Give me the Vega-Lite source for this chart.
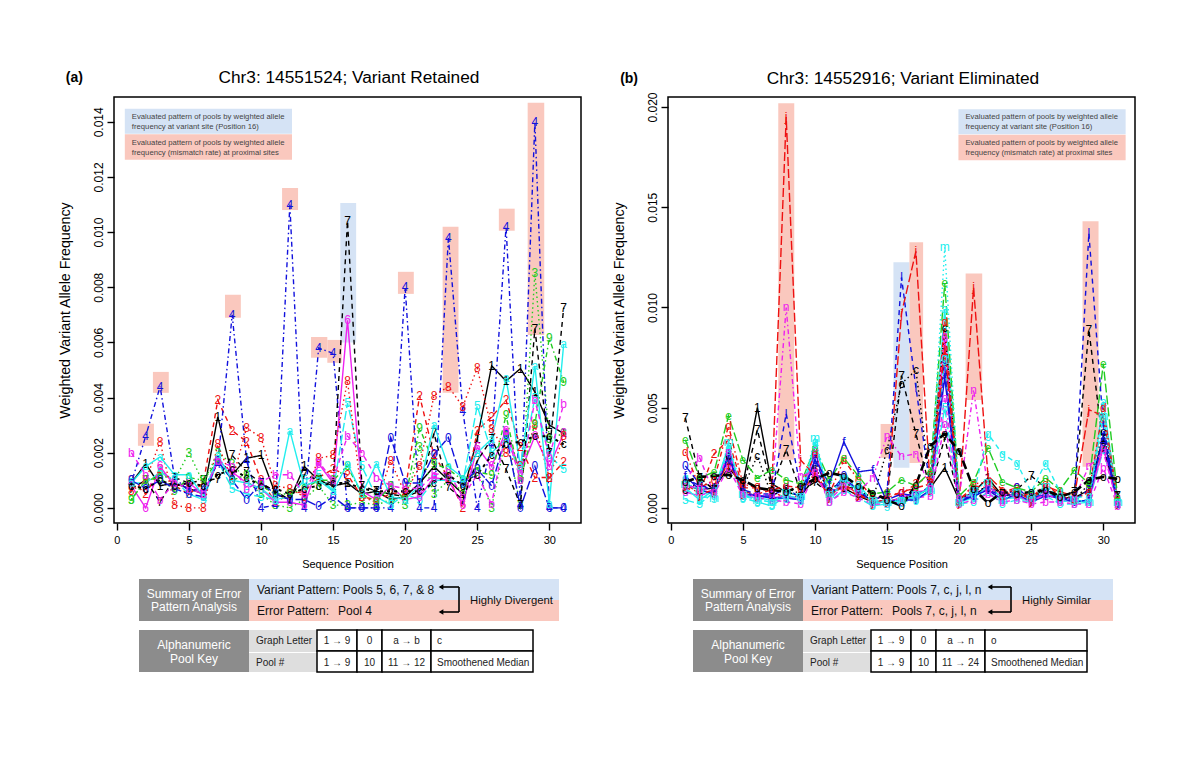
{"$schema":"https://vega.github.io/schema/vega-lite/v6.json","background":"white","padding":{"left":57,"top":67,"right":10,"bottom":10},"bounds":"flush","columns":2,"spacing":{"row":56,"column":87},"resolve":{"scale":{"color":"independent","strokeDash":"independent"}},"config":{"view":{"stroke":null},"font":"Liberation Sans","axis":{"grid":false,"domain":false,"ticks":true,"tickColor":"black","tickWidth":1.4,"tickSize":7,"labelColor":"black","titleColor":"black","labelFont":"Liberation Sans","titleFont":"Liberation Sans","titleFontWeight":"normal"}},
"datasets":{
"tab":[{"k":"dark","x":25,"x2":135,"y":0,"y2":42},{"k":"blue","x":135,"x2":445,"y":0,"y2":21},{"k":"pink","x":135,"x2":445,"y":21,"y2":42},{"k":"dark","x":25,"x2":135,"y":51,"y2":93},{"k":"light","x":135,"x2":203,"y":51,"y2":73},{"k":"light","x":135,"x2":203,"y":74,"y2":93},{"k":"cell","x":203,"x2":243,"y":51,"y2":72},{"k":"cell","x":243,"x2":268,"y":51,"y2":72},{"k":"cell","x":268,"x2":317,"y":51,"y2":72},{"k":"cell","x":317,"x2":419,"y":51,"y2":72},{"k":"cell","x":203,"x2":243,"y":72,"y2":93},{"k":"cell","x":243,"x2":268,"y":72,"y2":93},{"k":"cell","x":268,"x2":317,"y":72,"y2":93},{"k":"cell","x":317,"x2":419,"y":72,"y2":93}],
"tabText":[{"k":"w","x":80,"y":15,"t":"Summary of Error"},{"k":"w","x":80,"y":28,"t":"Pattern Analysis"},{"k":"w","x":80,"y":66,"t":"Alphanumeric"},{"k":"w","x":80,"y":80,"t":"Pool Key"},{"k":"s","x":142,"y":62,"t":"Graph Letter"},{"k":"s","x":142,"y":84,"t":"Pool #"},{"k":"c","x":223,"y":62,"t":"1 → 9"},{"k":"c","x":255.5,"y":62,"t":"0"},{"k":"c","x":223,"y":84,"t":"1 → 9"},{"k":"c","x":255.5,"y":84,"t":"10"},{"k":"s","x":323,"y":84,"t":"Smoothened Median"},{"k":"l","x":143,"y":32,"t":"Error Pattern:"}],
"textA":[{"k":"l","x":143,"y":11,"t":"Variant Pattern: Pools 5, 6, 7, & 8"},{"k":"l","x":224,"y":32,"t":"Pool 4"},{"k":"h","x":356,"y":22,"t":"Highly Divergent"},{"k":"c","x":292.5,"y":62,"t":"a → b"},{"k":"c","x":292.5,"y":84,"t":"11 → 12"},{"k":"s","x":323,"y":62,"t":"c"}],
"textB":[{"k":"l","x":143,"y":11,"t":"Variant Pattern: Pools 7, c, j, l, n"},{"k":"l","x":224,"y":32,"t":"Pools 7, c, j, l, n"},{"k":"h","x":354,"y":22,"t":"Highly Similar"},{"k":"c","x":292.5,"y":62,"t":"a → n"},{"k":"c","x":292.5,"y":84,"t":"11 → 24"},{"k":"s","x":323,"y":62,"t":"o"}],
"brA":[{"x":326,"x2":345,"y":8,"y2":8},{"x":345,"x2":345,"y":8,"y2":33},{"x":326,"x2":345,"y":33,"y2":33}],
"brB":[{"x":321,"x2":343,"y":8,"y2":8},{"x":343,"x2":343,"y":8,"y2":33},{"x":321,"x2":343,"y":33,"y2":33}],
"headA":[{"x":327,"y":8},{"x":327,"y":33}],
"headB":[{"x":322,"y":8},{"x":322,"y":33}],
"boxA":[{"k":"e","x":1.46,"x2":2.57,"y":0.00225,"y2":0.00305},{"k":"e","x":2.5,"x2":3.6,"y":0.00417,"y2":0.00493},{"k":"e","x":7.5,"x2":8.6,"y":0.00689,"y2":0.00773},{"k":"e","x":11.46,"x2":12.57,"y":0.0108,"y2":0.0116},{"k":"e","x":13.47,"x2":14.6,"y":0.00544,"y2":0.0062},{"k":"e","x":14.6,"x2":15.6,"y":0.00526,"y2":0.00609},{"k":"v","x":15.5,"x2":16.6,"y":0.006,"y2":0.01106},{"k":"e","x":19.5,"x2":20.6,"y":0.00776,"y2":0.00856},{"k":"e","x":22.6,"x2":23.7,"y":0.00417,"y2":0.01019},{"k":"e","x":26.5,"x2":27.6,"y":0.01005,"y2":0.01085},{"k":"e","x":28.5,"x2":29.65,"y":0.00627,"y2":0.01469},{"k":"v","x":0.55,"x2":12.15,"y":0.01357,"y2":0.01447},{"k":"e","x":0.55,"x2":12.15,"y":0.01262,"y2":0.01355}],
"boxB":[{"k":"e","x":7.45,"x2":8.56,"y":0.0024,"y2":0.02019},{"k":"v","x":15.44,"x2":16.55,"y":0.002,"y2":0.01226},{"k":"e","x":16.55,"x2":17.5,"y":0.00224,"y2":0.01326},{"k":"e","x":20.45,"x2":21.6,"y":0.00538,"y2":0.0117},{"k":"e","x":28.56,"x2":29.67,"y":0.00205,"y2":0.0143},{"k":"e","x":14.55,"x2":15.44,"y":0.0025,"y2":0.00419},{"k":"v","x":19.95,"x2":31.55,"y":0.01864,"y2":0.01989},{"k":"e","x":19.95,"x2":31.55,"y":0.01735,"y2":0.01862}],
"noteA":[{"x":1.04,"y":0.01418,"t":"Evaluated pattern of pools by weighted allele"},{"x":1.04,"y":0.01382,"t":"frequency at variant site (Position 16)"},{"x":1.04,"y":0.01324,"t":"Evaluated pattern of pools by weighted allele"},{"x":1.04,"y":0.01288,"t":"frequency (mismatch rate) at proximal sites"}],
"noteB":[{"x":20.44,"y":0.0195,"t":"Evaluated pattern of pools by weighted allele"},{"x":20.44,"y":0.019,"t":"frequency at variant site (Position 16)"},{"x":20.44,"y":0.0182,"t":"Evaluated pattern of pools by weighted allele"},{"x":20.44,"y":0.0177,"t":"frequency (mismatch rate) at proximal sites"}],
"tagA":[{"x":-3.54,"y":0.0156,"t":"(a)"}],
"tagB":[{"x":-3.52,"y":0.0214,"t":"(b)"}],
"headingA":[{"x":16.1,"y":0.0156,"t":"Chr3: 14551524; Variant Retained"}],
"headingB":[{"x":16.1,"y":0.0214,"t":"Chr3: 14552916; Variant Eliminated"}],
"A":[
{"s":"1","x":1,"y":0.0009},{"s":"1","x":2,"y":0.0016},{"s":"1","x":3,"y":0.0008},{"s":"1","x":4,"y":0.0009},{"s":"1","x":5,"y":0.0007},{"s":"1","x":6,"y":0.0005},{"s":"1","x":7,"y":0.0033},{"s":"1","x":8,"y":0.0012},{"s":"1","x":9,"y":0.0018},{"s":"1","x":10,"y":0.0019},{"s":"1","x":11,"y":0.0005},{"s":"1","x":12,"y":0.0003},{"s":"1","x":13,"y":0.0015},{"s":"1","x":14,"y":0.001},{"s":"1","x":15,"y":0.0008},{"s":"1","x":16,"y":0.0009},{"s":"1","x":17,"y":0.0005},{"s":"1","x":18,"y":0.0006},{"s":"1","x":19,"y":0.0003},{"s":"1","x":20,"y":0.0004},{"s":"1","x":21,"y":0.0009},{"s":"1","x":22,"y":0.0015},{"s":"1","x":23,"y":0.001},{"s":"1","x":24,"y":0.0005},{"s":"1","x":25,"y":0.0025},{"s":"1","x":26,"y":0.00515},{"s":"1","x":27,"y":0.0046},{"s":"1","x":28,"y":0.00505},{"s":"1","x":29,"y":0.0042},{"s":"1","x":30,"y":0.003},{"s":"1","x":31,"y":0.0027},
{"s":"2","x":1,"y":0.001},{"s":"2","x":2,"y":0.0005},{"s":"2","x":3,"y":0.0014},{"s":"2","x":4,"y":0.0008},{"s":"2","x":5,"y":0.0005},{"s":"2","x":6,"y":0.0009},{"s":"2","x":7,"y":0.0039},{"s":"2","x":8,"y":0.0028},{"s":"2","x":9,"y":0.0024},{"s":"2","x":10,"y":0.001},{"s":"2","x":11,"y":0.0002},{"s":"2","x":12,"y":0.0005},{"s":"2","x":13,"y":0.0006},{"s":"2","x":14,"y":0.0011},{"s":"2","x":15,"y":0.0014},{"s":"2","x":16,"y":0.0012},{"s":"2","x":17,"y":0.0004},{"s":"2","x":18,"y":0.0003},{"s":"2","x":19,"y":0.0005},{"s":"2","x":20,"y":0.0006},{"s":"2","x":21,"y":0.00407},{"s":"2","x":22,"y":0.0019},{"s":"2","x":23,"y":0.0011},{"s":"2","x":24,"y":0},{"s":"2","x":25,"y":0.0028},{"s":"2","x":26,"y":0.0033},{"s":"2","x":27,"y":0.0039},{"s":"2","x":28,"y":0.0022},{"s":"2","x":29,"y":0.0011},{"s":"2","x":30,"y":0.0011},{"s":"2","x":31,"y":0.00166},
{"s":"3","x":1,"y":0.0003},{"s":"3","x":2,"y":0.001},{"s":"3","x":3,"y":0.0012},{"s":"3","x":4,"y":0.001},{"s":"3","x":5,"y":0.002},{"s":"3","x":6,"y":0.0009},{"s":"3","x":7,"y":0.002},{"s":"3","x":8,"y":0.0016},{"s":"3","x":9,"y":0.001},{"s":"3","x":10,"y":0.0005},{"s":"3","x":11,"y":0.0001},{"s":"3","x":12,"y":0},{"s":"3","x":13,"y":0.0003},{"s":"3","x":14,"y":0.0008},{"s":"3","x":15,"y":0.0001},{"s":"3","x":16,"y":0.0001},{"s":"3","x":17,"y":0.0002},{"s":"3","x":18,"y":0.0001},{"s":"3","x":19,"y":0.0003},{"s":"3","x":20,"y":0.0001},{"s":"3","x":21,"y":0.0022},{"s":"3","x":22,"y":0.0005},{"s":"3","x":23,"y":0.001},{"s":"3","x":24,"y":0.0006},{"s":"3","x":25,"y":0.0014},{"s":"3","x":26,"y":0},{"s":"3","x":27,"y":0.0026},{"s":"3","x":28,"y":0.0001},{"s":"3","x":29,"y":0.0085},{"s":"3","x":30,"y":0.0025},{"s":"3","x":31,"y":0.0027},
{"s":"4","x":1,"y":0.0009},{"s":"4","x":2,"y":0.0026},{"s":"4","x":3,"y":0.0044},{"s":"4","x":4,"y":0.0011},{"s":"4","x":5,"y":0.0006},{"s":"4","x":6,"y":0.0007},{"s":"4","x":7,"y":0.0016},{"s":"4","x":8,"y":0.007},{"s":"4","x":9,"y":0.0017},{"s":"4","x":10,"y":0},{"s":"4","x":11,"y":0.0001},{"s":"4","x":12,"y":0.011},{"s":"4","x":13,"y":0},{"s":"4","x":14,"y":0.0058},{"s":"4","x":15,"y":0.0056},{"s":"4","x":16,"y":0},{"s":"4","x":17,"y":0},{"s":"4","x":18,"y":0},{"s":"4","x":19,"y":0},{"s":"4","x":20,"y":0.008},{"s":"4","x":21,"y":0},{"s":"4","x":22,"y":0},{"s":"4","x":23,"y":0.0098},{"s":"4","x":24,"y":0.0035},{"s":"4","x":25,"y":0},{"s":"4","x":26,"y":0.0023},{"s":"4","x":27,"y":0.0102},{"s":"4","x":28,"y":0.0001},{"s":"4","x":29,"y":0.014},{"s":"4","x":30,"y":0},{"s":"4","x":31,"y":0},
{"s":"5","x":1,"y":0.0009},{"s":"5","x":2,"y":0.0009},{"s":"5","x":3,"y":0.0013},{"s":"5","x":4,"y":0.001},{"s":"5","x":5,"y":0.0005},{"s":"5","x":6,"y":0.0003},{"s":"5","x":7,"y":0.0017},{"s":"5","x":8,"y":0.0007},{"s":"5","x":9,"y":0.0005},{"s":"5","x":10,"y":0.0004},{"s":"5","x":11,"y":0.0003},{"s":"5","x":12,"y":0.0004},{"s":"5","x":13,"y":0.001},{"s":"5","x":14,"y":0.0012},{"s":"5","x":15,"y":0.0006},{"s":"5","x":16,"y":0.0038},{"s":"5","x":17,"y":0.0015},{"s":"5","x":18,"y":0.0004},{"s":"5","x":19,"y":0.0001},{"s":"5","x":20,"y":0.0005},{"s":"5","x":21,"y":0.0003},{"s":"5","x":22,"y":0.001},{"s":"5","x":23,"y":0.001},{"s":"5","x":24,"y":0.0009},{"s":"5","x":25,"y":0.0037},{"s":"5","x":26,"y":0.002},{"s":"5","x":27,"y":0.0025},{"s":"5","x":28,"y":0.0013},{"s":"5","x":29,"y":0.004},{"s":"5","x":30,"y":0.0019},{"s":"5","x":31,"y":0.0014},
{"s":"6","x":1,"y":0.0008},{"s":"6","x":2,"y":0},{"s":"6","x":3,"y":0.0015},{"s":"6","x":4,"y":0.0008},{"s":"6","x":5,"y":0.0009},{"s":"6","x":6,"y":0.0005},{"s":"6","x":7,"y":0.0017},{"s":"6","x":8,"y":0.0013},{"s":"6","x":9,"y":0.0009},{"s":"6","x":10,"y":0.0007},{"s":"6","x":11,"y":0.0002},{"s":"6","x":12,"y":0.0002},{"s":"6","x":13,"y":0.0001},{"s":"6","x":14,"y":0.0016},{"s":"6","x":15,"y":0.0009},{"s":"6","x":16,"y":0.0068},{"s":"6","x":17,"y":0.0006},{"s":"6","x":18,"y":0.0003},{"s":"6","x":19,"y":0.0008},{"s":"6","x":20,"y":0.0003},{"s":"6","x":21,"y":0.0004},{"s":"6","x":22,"y":0.0011},{"s":"6","x":23,"y":0.001},{"s":"6","x":24,"y":0.0001},{"s":"6","x":25,"y":0.0022},{"s":"6","x":26,"y":0.0015},{"s":"6","x":27,"y":0.0028},{"s":"6","x":28,"y":0.0013},{"s":"6","x":29,"y":0.0026},{"s":"6","x":30,"y":0.0015},{"s":"6","x":31,"y":0.0027},
{"s":"7","x":1,"y":0.0007},{"s":"7","x":2,"y":0.001},{"s":"7","x":3,"y":0.0002},{"s":"7","x":4,"y":0.0011},{"s":"7","x":5,"y":0.0009},{"s":"7","x":6,"y":0.001},{"s":"7","x":7,"y":0.00105},{"s":"7","x":8,"y":0.0019},{"s":"7","x":9,"y":0.0013},{"s":"7","x":10,"y":0.0009},{"s":"7","x":11,"y":0.0006},{"s":"7","x":12,"y":0.0003},{"s":"7","x":13,"y":0.0012},{"s":"7","x":14,"y":0.001},{"s":"7","x":15,"y":0.0009},{"s":"7","x":16,"y":0.0104},{"s":"7","x":17,"y":0.0008},{"s":"7","x":18,"y":0.0006},{"s":"7","x":19,"y":0.0005},{"s":"7","x":20,"y":0.0004},{"s":"7","x":21,"y":0.0006},{"s":"7","x":22,"y":0.0027},{"s":"7","x":23,"y":0.00075},{"s":"7","x":24,"y":0.0003},{"s":"7","x":25,"y":0.0017},{"s":"7","x":26,"y":0.0025},{"s":"7","x":27,"y":0.0014},{"s":"7","x":28,"y":0.0001},{"s":"7","x":29,"y":0.0065},{"s":"7","x":30,"y":0.002},{"s":"7","x":31,"y":0.00726},
{"s":"8","x":1,"y":0.0006},{"s":"8","x":2,"y":0.001},{"s":"8","x":3,"y":0.0024},{"s":"8","x":4,"y":0.0001},{"s":"8","x":5,"y":0},{"s":"8","x":6,"y":0},{"s":"8","x":7,"y":0.0023},{"s":"8","x":8,"y":0.001},{"s":"8","x":9,"y":0.0029},{"s":"8","x":10,"y":0.00255},{"s":"8","x":11,"y":0.0008},{"s":"8","x":12,"y":0.0007},{"s":"8","x":13,"y":0.0004},{"s":"8","x":14,"y":0.0018},{"s":"8","x":15,"y":0.0019},{"s":"8","x":16,"y":0.0046},{"s":"8","x":17,"y":0.0004},{"s":"8","x":18,"y":0.0002},{"s":"8","x":19,"y":0.0017},{"s":"8","x":20,"y":0.0005},{"s":"8","x":21,"y":0.0015},{"s":"8","x":22,"y":0.00407},{"s":"8","x":23,"y":0.0044},{"s":"8","x":24,"y":0.00367},{"s":"8","x":25,"y":0.00507},{"s":"8","x":26,"y":0.00287},{"s":"8","x":27,"y":0.002},{"s":"8","x":28,"y":0.0015},{"s":"8","x":29,"y":0.003},{"s":"8","x":30,"y":0.0011},{"s":"8","x":31,"y":0.0026},
{"s":"9","x":1,"y":0.0003},{"s":"9","x":2,"y":0.001},{"s":"9","x":3,"y":0.0011},{"s":"9","x":4,"y":0.0006},{"s":"9","x":5,"y":0.0011},{"s":"9","x":6,"y":0.001},{"s":"9","x":7,"y":0.0017},{"s":"9","x":8,"y":0.001},{"s":"9","x":9,"y":0.0012},{"s":"9","x":10,"y":0.0008},{"s":"9","x":11,"y":0.0005},{"s":"9","x":12,"y":0.0005},{"s":"9","x":13,"y":0.0007},{"s":"9","x":14,"y":0.001},{"s":"9","x":15,"y":0.001},{"s":"9","x":16,"y":0.0015},{"s":"9","x":17,"y":0.0005},{"s":"9","x":18,"y":0.0002},{"s":"9","x":19,"y":0.0008},{"s":"9","x":20,"y":0.0003},{"s":"9","x":21,"y":0.0029},{"s":"9","x":22,"y":0.0016},{"s":"9","x":23,"y":0.0014},{"s":"9","x":24,"y":0.001},{"s":"9","x":25,"y":0.0013},{"s":"9","x":26,"y":0.0012},{"s":"9","x":27,"y":0.00335},{"s":"9","x":28,"y":0.001},{"s":"9","x":29,"y":0.00305},{"s":"9","x":30,"y":0.00615},{"s":"9","x":31,"y":0.00455},
{"s":"0","x":1,"y":0.001},{"s":"0","x":2,"y":0.0007},{"s":"0","x":3,"y":0.001},{"s":"0","x":4,"y":0.0007},{"s":"0","x":5,"y":0.0005},{"s":"0","x":6,"y":0.0004},{"s":"0","x":7,"y":0.0017},{"s":"0","x":8,"y":0.001},{"s":"0","x":9,"y":0.0003},{"s":"0","x":10,"y":0.0009},{"s":"0","x":11,"y":0.0005},{"s":"0","x":12,"y":0.0003},{"s":"0","x":13,"y":0.0003},{"s":"0","x":14,"y":0.00005},{"s":"0","x":15,"y":0.0004},{"s":"0","x":16,"y":0},{"s":"0","x":17,"y":0},{"s":"0","x":18,"y":0},{"s":"0","x":19,"y":0.00255},{"s":"0","x":20,"y":0.0009},{"s":"0","x":21,"y":0.0009},{"s":"0","x":22,"y":0.00195},{"s":"0","x":23,"y":0.00255},{"s":"0","x":24,"y":0.00085},{"s":"0","x":25,"y":0.0014},{"s":"0","x":26,"y":0.0008},{"s":"0","x":27,"y":0.00265},{"s":"0","x":28,"y":0},{"s":"0","x":29,"y":0.0015},{"s":"0","x":30,"y":0},{"s":"0","x":31,"y":0},
{"s":"a","x":1,"y":0.0009},{"s":"a","x":2,"y":0.0015},{"s":"a","x":3,"y":0.00185},{"s":"a","x":4,"y":0.0012},{"s":"a","x":5,"y":0.0012},{"s":"a","x":6,"y":0.0004},{"s":"a","x":7,"y":0.0019},{"s":"a","x":8,"y":0.001},{"s":"a","x":9,"y":0.0009},{"s":"a","x":10,"y":0.0007},{"s":"a","x":11,"y":0.0003},{"s":"a","x":12,"y":0.0028},{"s":"a","x":13,"y":0.0008},{"s":"a","x":14,"y":0.001},{"s":"a","x":15,"y":0.0006},{"s":"a","x":16,"y":0.0016},{"s":"a","x":17,"y":0.0005},{"s":"a","x":18,"y":0.0016},{"s":"a","x":19,"y":0.0004},{"s":"a","x":20,"y":0.0003},{"s":"a","x":21,"y":0.0008},{"s":"a","x":22,"y":0.003},{"s":"a","x":23,"y":0.0015},{"s":"a","x":24,"y":0.0011},{"s":"a","x":25,"y":0.002},{"s":"a","x":26,"y":0.0025},{"s":"a","x":27,"y":0.0047},{"s":"a","x":28,"y":0.0015},{"s":"a","x":29,"y":0.00515},{"s":"a","x":30,"y":0.00015},{"s":"a","x":31,"y":0.00595},
{"s":"b","x":1,"y":0.002},{"s":"b","x":2,"y":0.0012},{"s":"b","x":3,"y":0.0003},{"s":"b","x":4,"y":0.0009},{"s":"b","x":5,"y":0.0007},{"s":"b","x":6,"y":0.0005},{"s":"b","x":7,"y":0.0017},{"s":"b","x":8,"y":0.0015},{"s":"b","x":9,"y":0.0007},{"s":"b","x":10,"y":0.00095},{"s":"b","x":11,"y":0.0012},{"s":"b","x":12,"y":0.0012},{"s":"b","x":13,"y":0.0005},{"s":"b","x":14,"y":0.00166},{"s":"b","x":15,"y":0.001},{"s":"b","x":16,"y":0.0026},{"s":"b","x":17,"y":0.002},{"s":"b","x":18,"y":0.0011},{"s":"b","x":19,"y":0.0008},{"s":"b","x":20,"y":0.0007},{"s":"b","x":21,"y":0.0007},{"s":"b","x":22,"y":0.0012},{"s":"b","x":23,"y":0.0013},{"s":"b","x":24,"y":0.0004},{"s":"b","x":25,"y":0.0012},{"s":"b","x":26,"y":0.00015},{"s":"b","x":27,"y":0.0028},{"s":"b","x":28,"y":0.001},{"s":"b","x":29,"y":0.0039},{"s":"b","x":30,"y":0.00185},{"s":"b","x":31,"y":0.00377},
{"s":"c","x":1,"y":0.0008},{"s":"c","x":2,"y":0.0007},{"s":"c","x":3,"y":0.001},{"s":"c","x":4,"y":0.0008},{"s":"c","x":5,"y":0.0009},{"s":"c","x":6,"y":0.0008},{"s":"c","x":7,"y":0.0012},{"s":"c","x":8,"y":0.0014},{"s":"c","x":9,"y":0.0011},{"s":"c","x":10,"y":0.0008},{"s":"c","x":11,"y":0.0007},{"s":"c","x":12,"y":0.0005},{"s":"c","x":13,"y":0.0007},{"s":"c","x":14,"y":0.0008},{"s":"c","x":15,"y":0.0009},{"s":"c","x":16,"y":0.0009},{"s":"c","x":17,"y":0.0007},{"s":"c","x":18,"y":0.0006},{"s":"c","x":19,"y":0.0006},{"s":"c","x":20,"y":0.0006},{"s":"c","x":21,"y":0.0006},{"s":"c","x":22,"y":0.0009},{"s":"c","x":23,"y":0.0012},{"s":"c","x":24,"y":0.0008},{"s":"c","x":25,"y":0.0012},{"s":"c","x":26,"y":0.0019},{"s":"c","x":27,"y":0.0023},{"s":"c","x":28,"y":0.0024},{"s":"c","x":29,"y":0.0026},{"s":"c","x":30,"y":0.0026},{"s":"c","x":31,"y":0.0023}
],
"B":[
{"s":"1","x":1,"y":0.0012},{"s":"1","x":2,"y":0.0009},{"s":"1","x":3,"y":0.001},{"s":"1","x":4,"y":0.002},{"s":"1","x":5,"y":0.0012},{"s":"1","x":6,"y":0.005},{"s":"1","x":7,"y":0.0012},{"s":"1","x":8,"y":0.0008},{"s":"1","x":9,"y":0.0006},{"s":"1","x":10,"y":0.0015},{"s":"1","x":11,"y":0.0008},{"s":"1","x":12,"y":0.001},{"s":"1","x":13,"y":0.0006},{"s":"1","x":14,"y":0.0003},{"s":"1","x":15,"y":0.0003},{"s":"1","x":16,"y":0.0005},{"s":"1","x":17,"y":0.0006},{"s":"1","x":18,"y":0.001},{"s":"1","x":19,"y":0.002},{"s":"1","x":20,"y":0.0004},{"s":"1","x":21,"y":0.0008},{"s":"1","x":22,"y":0.0015},{"s":"1","x":23,"y":0.0006},{"s":"1","x":24,"y":0.0007},{"s":"1","x":25,"y":0.0006},{"s":"1","x":26,"y":0.0009},{"s":"1","x":27,"y":0.0005},{"s":"1","x":28,"y":0.0005},{"s":"1","x":29,"y":0.0009},{"s":"1","x":30,"y":0.0035},{"s":"1","x":31,"y":0.0006},
{"s":"2","x":1,"y":0.001},{"s":"2","x":2,"y":0.0008},{"s":"2","x":3,"y":0.0027},{"s":"2","x":4,"y":0.0034},{"s":"2","x":5,"y":0.001},{"s":"2","x":6,"y":0.001},{"s":"2","x":7,"y":0.0008},{"s":"2","x":8,"y":0.0005},{"s":"2","x":9,"y":0.0006},{"s":"2","x":10,"y":0.0018},{"s":"2","x":11,"y":0.0006},{"s":"2","x":12,"y":0.0011},{"s":"2","x":13,"y":0.0006},{"s":"2","x":14,"y":0.0004},{"s":"2","x":15,"y":0.0007},{"s":"2","x":16,"y":0.0007},{"s":"2","x":17,"y":0.0012},{"s":"2","x":18,"y":0.0016},{"s":"2","x":19,"y":0.0075},{"s":"2","x":20,"y":0.0004},{"s":"2","x":21,"y":0.0011},{"s":"2","x":22,"y":0.001},{"s":"2","x":23,"y":0.0008},{"s":"2","x":24,"y":0.001},{"s":"2","x":25,"y":0.0005},{"s":"2","x":26,"y":0.0006},{"s":"2","x":27,"y":0.0007},{"s":"2","x":28,"y":0.0005},{"s":"2","x":29,"y":0.0007},{"s":"2","x":30,"y":0.003},{"s":"2","x":31,"y":0.0002},
{"s":"5","x":1,"y":0.0004},{"s":"5","x":2,"y":0.0002},{"s":"5","x":3,"y":0.0008},{"s":"5","x":4,"y":0.0025},{"s":"5","x":5,"y":0.0005},{"s":"5","x":6,"y":0.0003},{"s":"5","x":7,"y":0.0001},{"s":"5","x":8,"y":0.0006},{"s":"5","x":9,"y":0.0004},{"s":"5","x":10,"y":0.0029},{"s":"5","x":11,"y":0.0003},{"s":"5","x":12,"y":0.0009},{"s":"5","x":13,"y":0.0005},{"s":"5","x":14,"y":0.0001},{"s":"5","x":15,"y":0.0002},{"s":"5","x":16,"y":0.0003},{"s":"5","x":17,"y":0.0004},{"s":"5","x":18,"y":0.0008},{"s":"5","x":19,"y":0.005},{"s":"5","x":20,"y":0.0002},{"s":"5","x":21,"y":0.0003},{"s":"5","x":22,"y":0.0008},{"s":"5","x":23,"y":0.0002},{"s":"5","x":24,"y":0.0004},{"s":"5","x":25,"y":0.0003},{"s":"5","x":26,"y":0.0006},{"s":"5","x":27,"y":0.0002},{"s":"5","x":28,"y":0.0002},{"s":"5","x":29,"y":0.0003},{"s":"5","x":30,"y":0.0029},{"s":"5","x":31,"y":0.0002},
{"s":"6","x":1,"y":0.0008},{"s":"6","x":2,"y":0.0006},{"s":"6","x":3,"y":0.0009},{"s":"6","x":4,"y":0.0026},{"s":"6","x":5,"y":0.0007},{"s":"6","x":6,"y":0.0006},{"s":"6","x":7,"y":0.0005},{"s":"6","x":8,"y":0.0006},{"s":"6","x":9,"y":0.0004},{"s":"6","x":10,"y":0.0028},{"s":"6","x":11,"y":0.0005},{"s":"6","x":12,"y":0.0014},{"s":"6","x":13,"y":0.0009},{"s":"6","x":14,"y":0.0003},{"s":"6","x":15,"y":0.0003},{"s":"6","x":16,"y":0.0005},{"s":"6","x":17,"y":0.0008},{"s":"6","x":18,"y":0.0009},{"s":"6","x":19,"y":0.0085},{"s":"6","x":20,"y":0.0003},{"s":"6","x":21,"y":0.0008},{"s":"6","x":22,"y":0.0009},{"s":"6","x":23,"y":0.0004},{"s":"6","x":24,"y":0.0006},{"s":"6","x":25,"y":0.0003},{"s":"6","x":26,"y":0.0009},{"s":"6","x":27,"y":0.0004},{"s":"6","x":28,"y":0.0003},{"s":"6","x":29,"y":0.0004},{"s":"6","x":30,"y":0.003},{"s":"6","x":31,"y":0.0002},
{"s":"7","x":1,"y":0.0045},{"s":"7","x":2,"y":0.0015},{"s":"7","x":3,"y":0.0009},{"s":"7","x":4,"y":0.0026},{"s":"7","x":5,"y":0.001},{"s":"7","x":6,"y":0.0039},{"s":"7","x":7,"y":0.001},{"s":"7","x":8,"y":0.0029},{"s":"7","x":9,"y":0.0008},{"s":"7","x":10,"y":0.0013},{"s":"7","x":11,"y":0.0007},{"s":"7","x":12,"y":0.0011},{"s":"7","x":13,"y":0.0009},{"s":"7","x":14,"y":0.0005},{"s":"7","x":15,"y":0.0006},{"s":"7","x":16,"y":0.0066},{"s":"7","x":17,"y":0.0037},{"s":"7","x":18,"y":0.0009},{"s":"7","x":19,"y":0.0035},{"s":"7","x":20,"y":0.0003},{"s":"7","x":21,"y":0.0006},{"s":"7","x":22,"y":0.0011},{"s":"7","x":23,"y":0.0007},{"s":"7","x":24,"y":0.0009},{"s":"7","x":25,"y":0.0016},{"s":"7","x":26,"y":0.001},{"s":"7","x":27,"y":0.0006},{"s":"7","x":28,"y":0.0008},{"s":"7","x":29,"y":0.0089},{"s":"7","x":30,"y":0.003},{"s":"7","x":31,"y":0.0006},
{"s":"0","x":1,"y":0.0021},{"s":"0","x":2,"y":0.0012},{"s":"0","x":3,"y":0.0008},{"s":"0","x":4,"y":0.0025},{"s":"0","x":5,"y":0.0008},{"s":"0","x":6,"y":0.0006},{"s":"0","x":7,"y":0.0006},{"s":"0","x":8,"y":0.001},{"s":"0","x":9,"y":0.0005},{"s":"0","x":10,"y":0.0024},{"s":"0","x":11,"y":0.0007},{"s":"0","x":12,"y":0.0016},{"s":"0","x":13,"y":0.0008},{"s":"0","x":14,"y":0.0003},{"s":"0","x":15,"y":0.0004},{"s":"0","x":16,"y":0.0007},{"s":"0","x":17,"y":0.0006},{"s":"0","x":18,"y":0.0011},{"s":"0","x":19,"y":0.0074},{"s":"0","x":20,"y":0.0004},{"s":"0","x":21,"y":0.0006},{"s":"0","x":22,"y":0.0011},{"s":"0","x":23,"y":0.0005},{"s":"0","x":24,"y":0.001},{"s":"0","x":25,"y":0.0004},{"s":"0","x":26,"y":0.0007},{"s":"0","x":27,"y":0.0005},{"s":"0","x":28,"y":0.0004},{"s":"0","x":29,"y":0.0009},{"s":"0","x":30,"y":0.0033},{"s":"0","x":31,"y":0.0003},
{"s":"a","x":1,"y":0.001},{"s":"a","x":2,"y":0.0004},{"s":"a","x":3,"y":0.0009},{"s":"a","x":4,"y":0.0031},{"s":"a","x":5,"y":0.0006},{"s":"a","x":6,"y":0.0005},{"s":"a","x":7,"y":0.0004},{"s":"a","x":8,"y":0.0005},{"s":"a","x":9,"y":0.0004},{"s":"a","x":10,"y":0.0033},{"s":"a","x":11,"y":0.0005},{"s":"a","x":12,"y":0.0013},{"s":"a","x":13,"y":0.0009},{"s":"a","x":14,"y":0.0003},{"s":"a","x":15,"y":0.0003},{"s":"a","x":16,"y":0.0003},{"s":"a","x":17,"y":0.0006},{"s":"a","x":18,"y":0.001},{"s":"a","x":19,"y":0.0099},{"s":"a","x":20,"y":0.0003},{"s":"a","x":21,"y":0.0005},{"s":"a","x":22,"y":0.0011},{"s":"a","x":23,"y":0.0005},{"s":"a","x":24,"y":0.0005},{"s":"a","x":25,"y":0.0004},{"s":"a","x":26,"y":0.0009},{"s":"a","x":27,"y":0.0003},{"s":"a","x":28,"y":0.0004},{"s":"a","x":29,"y":0.0003},{"s":"a","x":30,"y":0.0053},{"s":"a","x":31,"y":0.0003},
{"s":"b","x":1,"y":0.0013},{"s":"b","x":2,"y":0.0025},{"s":"b","x":3,"y":0.0007},{"s":"b","x":4,"y":0.002},{"s":"b","x":5,"y":0.0006},{"s":"b","x":6,"y":0.0005},{"s":"b","x":7,"y":0.0004},{"s":"b","x":8,"y":0.0003},{"s":"b","x":9,"y":0.0002},{"s":"b","x":10,"y":0.0018},{"s":"b","x":11,"y":0.0003},{"s":"b","x":12,"y":0.0008},{"s":"b","x":13,"y":0.0005},{"s":"b","x":14,"y":0.0002},{"s":"b","x":15,"y":0.0002},{"s":"b","x":16,"y":0.0003},{"s":"b","x":17,"y":0.0005},{"s":"b","x":18,"y":0.0006},{"s":"b","x":19,"y":0.0042},{"s":"b","x":20,"y":0.0002},{"s":"b","x":21,"y":0.0004},{"s":"b","x":22,"y":0.0007},{"s":"b","x":23,"y":0.0003},{"s":"b","x":24,"y":0.0004},{"s":"b","x":25,"y":0.0002},{"s":"b","x":26,"y":0.0003},{"s":"b","x":27,"y":0.0003},{"s":"b","x":28,"y":0.0002},{"s":"b","x":29,"y":0.0002},{"s":"b","x":30,"y":0.002},{"s":"b","x":31,"y":0.0001},
{"s":"c","x":1,"y":0.0009},{"s":"c","x":2,"y":0.0013},{"s":"c","x":3,"y":0.001},{"s":"c","x":4,"y":0.0026},{"s":"c","x":5,"y":0.001},{"s":"c","x":6,"y":0.0026},{"s":"c","x":7,"y":0.0006},{"s":"c","x":8,"y":0.001},{"s":"c","x":9,"y":0.0007},{"s":"c","x":10,"y":0.002},{"s":"c","x":11,"y":0.0009},{"s":"c","x":12,"y":0.0014},{"s":"c","x":13,"y":0.0007},{"s":"c","x":14,"y":0.0004},{"s":"c","x":15,"y":0.0029},{"s":"c","x":16,"y":0.0062},{"s":"c","x":17,"y":0.00687},{"s":"c","x":18,"y":0.0012},{"s":"c","x":19,"y":0.009},{"s":"c","x":20,"y":0.0004},{"s":"c","x":21,"y":0.0009},{"s":"c","x":22,"y":0.001},{"s":"c","x":23,"y":0.0007},{"s":"c","x":24,"y":0.0007},{"s":"c","x":25,"y":0.0005},{"s":"c","x":26,"y":0.0009},{"s":"c","x":27,"y":0.0006},{"s":"c","x":28,"y":0.0004},{"s":"c","x":29,"y":0.0012},{"s":"c","x":30,"y":0.0038},{"s":"c","x":31,"y":0.0003},
{"s":"d","x":1,"y":0.0028},{"s":"d","x":2,"y":0.001},{"s":"d","x":3,"y":0.0014},{"s":"d","x":4,"y":0.0041},{"s":"d","x":5,"y":0.0012},{"s":"d","x":6,"y":0.001},{"s":"d","x":7,"y":0.0009},{"s":"d","x":8,"y":0.0011},{"s":"d","x":9,"y":0.001},{"s":"d","x":10,"y":0.0027},{"s":"d","x":11,"y":0.0007},{"s":"d","x":12,"y":0.0024},{"s":"d","x":13,"y":0.0014},{"s":"d","x":14,"y":0.0005},{"s":"d","x":15,"y":0.0005},{"s":"d","x":16,"y":0.0008},{"s":"d","x":17,"y":0.001},{"s":"d","x":18,"y":0.0012},{"s":"d","x":19,"y":0.0093},{"s":"d","x":20,"y":0.0003},{"s":"d","x":21,"y":0.0012},{"s":"d","x":22,"y":0.0013},{"s":"d","x":23,"y":0.0006},{"s":"d","x":24,"y":0.0009},{"s":"d","x":25,"y":0.0005},{"s":"d","x":26,"y":0.0012},{"s":"d","x":27,"y":0.0006},{"s":"d","x":28,"y":0.0004},{"s":"d","x":29,"y":0.0008},{"s":"d","x":30,"y":0.005},{"s":"d","x":31,"y":0.0004},
{"s":"e","x":1,"y":0.0034},{"s":"e","x":2,"y":0.0015},{"s":"e","x":3,"y":0.0018},{"s":"e","x":4,"y":0.0046},{"s":"e","x":5,"y":0.0024},{"s":"e","x":6,"y":0.0015},{"s":"e","x":7,"y":0.0019},{"s":"e","x":8,"y":0.0014},{"s":"e","x":9,"y":0.0012},{"s":"e","x":10,"y":0.003},{"s":"e","x":11,"y":0.0014},{"s":"e","x":12,"y":0.0025},{"s":"e","x":13,"y":0.0016},{"s":"e","x":14,"y":0.0007},{"s":"e","x":15,"y":0.0008},{"s":"e","x":16,"y":0.0014},{"s":"e","x":17,"y":0.0011},{"s":"e","x":18,"y":0.0018},{"s":"e","x":19,"y":0.0112},{"s":"e","x":20,"y":0.0006},{"s":"e","x":21,"y":0.0013},{"s":"e","x":22,"y":0.003},{"s":"e","x":23,"y":0.0013},{"s":"e","x":24,"y":0.001},{"s":"e","x":25,"y":0.0008},{"s":"e","x":26,"y":0.0015},{"s":"e","x":27,"y":0.0009},{"s":"e","x":28,"y":0.0019},{"s":"e","x":29,"y":0.0012},{"s":"e","x":30,"y":0.0072},{"s":"e","x":31,"y":0.0005},
{"s":"f","x":1,"y":0.0016},{"s":"f","x":2,"y":0.0009},{"s":"f","x":3,"y":0.0007},{"s":"f","x":4,"y":0.0027},{"s":"f","x":5,"y":0.0007},{"s":"f","x":6,"y":0.0006},{"s":"f","x":7,"y":0.0005},{"s":"f","x":8,"y":0.0005},{"s":"f","x":9,"y":0.0004},{"s":"f","x":10,"y":0.0024},{"s":"f","x":11,"y":0.0012},{"s":"f","x":12,"y":0.0033},{"s":"f","x":13,"y":0.0018},{"s":"f","x":14,"y":0.0019},{"s":"f","x":15,"y":0.0003},{"s":"f","x":16,"y":0.0004},{"s":"f","x":17,"y":0.0004},{"s":"f","x":18,"y":0.0009},{"s":"f","x":19,"y":0.0065},{"s":"f","x":20,"y":0.0003},{"s":"f","x":21,"y":0.0006},{"s":"f","x":22,"y":0.0009},{"s":"f","x":23,"y":0.0004},{"s":"f","x":24,"y":0.0007},{"s":"f","x":25,"y":0.0003},{"s":"f","x":26,"y":0.0006},{"s":"f","x":27,"y":0.0005},{"s":"f","x":28,"y":0.0003},{"s":"f","x":29,"y":0.0004},{"s":"f","x":30,"y":0.0036},{"s":"f","x":31,"y":0.0002},
{"s":"g","x":1,"y":0.0015},{"s":"g","x":2,"y":0.0005},{"s":"g","x":3,"y":0.0006},{"s":"g","x":4,"y":0.003},{"s":"g","x":5,"y":0.0006},{"s":"g","x":6,"y":0.0004},{"s":"g","x":7,"y":0.0003},{"s":"g","x":8,"y":0.0006},{"s":"g","x":9,"y":0.0005},{"s":"g","x":10,"y":0.0033},{"s":"g","x":11,"y":0.0006},{"s":"g","x":12,"y":0.0015},{"s":"g","x":13,"y":0.0012},{"s":"g","x":14,"y":0.0003},{"s":"g","x":15,"y":0.0002},{"s":"g","x":16,"y":0.0004},{"s":"g","x":17,"y":0.0005},{"s":"g","x":18,"y":0.0011},{"s":"g","x":19,"y":0.0075},{"s":"g","x":20,"y":0.0004},{"s":"g","x":21,"y":0.0007},{"s":"g","x":22,"y":0.0037},{"s":"g","x":23,"y":0.0027},{"s":"g","x":24,"y":0.00225},{"s":"g","x":25,"y":0.0008},{"s":"g","x":26,"y":0.00225},{"s":"g","x":27,"y":0.0008},{"s":"g","x":28,"y":0.0005},{"s":"g","x":29,"y":0.0006},{"s":"g","x":30,"y":0.0045},{"s":"g","x":31,"y":0.0003},
{"s":"j","x":1,"y":0.0012},{"s":"j","x":2,"y":0.0007},{"s":"j","x":3,"y":0.0009},{"s":"j","x":4,"y":0.0023},{"s":"j","x":5,"y":0.0008},{"s":"j","x":6,"y":0.0007},{"s":"j","x":7,"y":0.0009},{"s":"j","x":8,"y":0.0195},{"s":"j","x":9,"y":0.0024},{"s":"j","x":10,"y":0.0016},{"s":"j","x":11,"y":0.0006},{"s":"j","x":12,"y":0.0012},{"s":"j","x":13,"y":0.0007},{"s":"j","x":14,"y":0.0003},{"s":"j","x":15,"y":0.0004},{"s":"j","x":16,"y":0.0097},{"s":"j","x":17,"y":0.0128},{"s":"j","x":18,"y":0.001},{"s":"j","x":19,"y":0.008},{"s":"j","x":20,"y":0.0003},{"s":"j","x":21,"y":0.011},{"s":"j","x":22,"y":0.0016},{"s":"j","x":23,"y":0.0009},{"s":"j","x":24,"y":0.0008},{"s":"j","x":25,"y":0.0004},{"s":"j","x":26,"y":0.0011},{"s":"j","x":27,"y":0.0008},{"s":"j","x":28,"y":0.0006},{"s":"j","x":29,"y":0.0049},{"s":"j","x":30,"y":0.0046},{"s":"j","x":31,"y":0.0003},
{"s":"l","x":1,"y":0.0015},{"s":"l","x":2,"y":0.0011},{"s":"l","x":3,"y":0.001},{"s":"l","x":4,"y":0.0024},{"s":"l","x":5,"y":0.0009},{"s":"l","x":6,"y":0.0007},{"s":"l","x":7,"y":0.0007},{"s":"l","x":8,"y":0.0047},{"s":"l","x":9,"y":0.001},{"s":"l","x":10,"y":0.002},{"s":"l","x":11,"y":0.0006},{"s":"l","x":12,"y":0.0015},{"s":"l","x":13,"y":0.0009},{"s":"l","x":14,"y":0.0003},{"s":"l","x":15,"y":0.0008},{"s":"l","x":16,"y":0.0115},{"s":"l","x":17,"y":0.006},{"s":"l","x":18,"y":0.001},{"s":"l","x":19,"y":0.0068},{"s":"l","x":20,"y":0.0004},{"s":"l","x":21,"y":0.0006},{"s":"l","x":22,"y":0.0009},{"s":"l","x":23,"y":0.0006},{"s":"l","x":24,"y":0.0007},{"s":"l","x":25,"y":0.0005},{"s":"l","x":26,"y":0.0007},{"s":"l","x":27,"y":0.0005},{"s":"l","x":28,"y":0.0005},{"s":"l","x":29,"y":0.0137},{"s":"l","x":30,"y":0.0041},{"s":"l","x":31,"y":0.0002},
{"s":"m","x":1,"y":0.0012},{"s":"m","x":2,"y":0.0009},{"s":"m","x":3,"y":0.0005},{"s":"m","x":4,"y":0.0033},{"s":"m","x":5,"y":0.0007},{"s":"m","x":6,"y":0.0004},{"s":"m","x":7,"y":0.0003},{"s":"m","x":8,"y":0.0008},{"s":"m","x":9,"y":0.0006},{"s":"m","x":10,"y":0.0035},{"s":"m","x":11,"y":0.0007},{"s":"m","x":12,"y":0.0015},{"s":"m","x":13,"y":0.001},{"s":"m","x":14,"y":0.0004},{"s":"m","x":15,"y":0.0003},{"s":"m","x":16,"y":0.0004},{"s":"m","x":17,"y":0.0007},{"s":"m","x":18,"y":0.0009},{"s":"m","x":19,"y":0.013},{"s":"m","x":20,"y":0.0003},{"s":"m","x":21,"y":0.0009},{"s":"m","x":22,"y":0.0013},{"s":"m","x":23,"y":0.0004},{"s":"m","x":24,"y":0.0008},{"s":"m","x":25,"y":0.0005},{"s":"m","x":26,"y":0.0011},{"s":"m","x":27,"y":0.0005},{"s":"m","x":28,"y":0.0004},{"s":"m","x":29,"y":0.0003},{"s":"m","x":30,"y":0.0046},{"s":"m","x":31,"y":0.0003},
{"s":"n","x":1,"y":0.0011},{"s":"n","x":2,"y":0.001},{"s":"n","x":3,"y":0.0008},{"s":"n","x":4,"y":0.0028},{"s":"n","x":5,"y":0.0007},{"s":"n","x":6,"y":0.0006},{"s":"n","x":7,"y":0.0007},{"s":"n","x":8,"y":0.01},{"s":"n","x":9,"y":0.0016},{"s":"n","x":10,"y":0.0018},{"s":"n","x":11,"y":0.0004},{"s":"n","x":12,"y":0.0011},{"s":"n","x":13,"y":0.0008},{"s":"n","x":14,"y":0.0015},{"s":"n","x":15,"y":0.0036},{"s":"n","x":16,"y":0.00257},{"s":"n","x":17,"y":0.0027},{"s":"n","x":18,"y":0.001},{"s":"n","x":19,"y":0.0055},{"s":"n","x":20,"y":0.0005},{"s":"n","x":21,"y":0.0059},{"s":"n","x":22,"y":0.001},{"s":"n","x":23,"y":0.0007},{"s":"n","x":24,"y":0.0006},{"s":"n","x":25,"y":0.0003},{"s":"n","x":26,"y":0.0007},{"s":"n","x":27,"y":0.0004},{"s":"n","x":28,"y":0.0005},{"s":"n","x":29,"y":0.00207},{"s":"n","x":30,"y":0.0028},{"s":"n","x":31,"y":0.0002},
{"s":"o","x":1,"y":0.0013},{"s":"o","x":2,"y":0.00155},{"s":"o","x":3,"y":0.0016},{"s":"o","x":4,"y":0.00165},{"s":"o","x":5,"y":0.0014},{"s":"o","x":6,"y":0.001},{"s":"o","x":7,"y":0.0009},{"s":"o","x":8,"y":0.0008},{"s":"o","x":9,"y":0.0011},{"s":"o","x":10,"y":0.00145},{"s":"o","x":11,"y":0.00175},{"s":"o","x":12,"y":0.0016},{"s":"o","x":13,"y":0.0011},{"s":"o","x":14,"y":0.00075},{"s":"o","x":15,"y":0.0004},{"s":"o","x":16,"y":0.0001},{"s":"o","x":17,"y":0.00115},{"s":"o","x":18,"y":0.0031},{"s":"o","x":19,"y":0.0037},{"s":"o","x":20,"y":0.00285},{"s":"o","x":21,"y":0.00095},{"s":"o","x":22,"y":0.00025},{"s":"o","x":23,"y":0.0008},{"s":"o","x":24,"y":0.0007},{"s":"o","x":25,"y":0.0008},{"s":"o","x":26,"y":0.0009},{"s":"o","x":27,"y":0.00055},{"s":"o","x":28,"y":0.0008},{"s":"o","x":29,"y":0.0014},{"s":"o","x":30,"y":0.00155},{"s":"o","x":31,"y":0.00145}
]},
"concat":[
{"width":467,"height":426,"view":{"stroke":"black","strokeWidth":1.5},
"encoding":{"x":{"field":"x","type":"quantitative","scale":{"domain":[-0.2,32.2],"nice":false,"zero":false},"axis":{"values":[0,5,10,15,20,25,30],"title":"Sequence Position","titleFontSize":11,"labelFontSize":11,"labelPadding":4,"titlePadding":13}},"y":{"field":"y","type":"quantitative","scale":{"domain":[-0.00055,0.0149],"nice":false,"zero":false},"axis":{"values":[0,0.002,0.004,0.006,0.008,0.01,0.012,0.014],"format":".3f","title":"Weighted Variant Allele Frequency","titleFontSize":14.2,"labelFontSize":12,"labelAngle":-90,"labelAlign":"center","labelBaseline":"bottom","labelPadding":2,"titlePadding":20}}},
"layer":[
{"data":{"name":"boxA"},"transform":[{"filter":"datum.k=='v'"}],"mark":{"type":"rect","color":"#D5E3F5"},"encoding":{"x2":{"field":"x2"},"y2":{"field":"y2"}}},
{"data":{"name":"boxA"},"transform":[{"filter":"datum.k=='e'"}],"mark":{"type":"rect","color":"#FAC8BE"},"encoding":{"x2":{"field":"x2"},"y2":{"field":"y2"}}},
{"data":{"name":"noteA"},"mark":{"type":"text","align":"left","baseline":"middle","fontSize":7.7,"color":"#444444"},"encoding":{"text":{"field":"t"}}},
{"data":{"name":"A"},"mark":{"type":"line"},"encoding":{"color":{"field":"s","type":"nominal","legend":null,"scale":{"domain":["1","2","3","4","5","6","7","8","9","0","a","b","c"],"range":["#000000","#EE1111","#22CC22","#1111DD","#22EEEE","#EE22EE","#000000","#EE1111","#22CC22","#1111DD","#22EEEE","#EE22EE","#000000"]}},"strokeDash":{"field":"s","type":"nominal","legend":null,"scale":{"domain":["1","2","3","4","5","6","7","8","9","0","a","b","c"],"range":[[1,0],[5,4],[1.5,3],[1.5,3,5,3],[9,3],[1,0],[5,4],[1.5,3],[1.5,3,5,3],[9,3],[1,0],[5,4],[3,4]]}},"strokeWidth":{"condition":{"test":"datum.s=='c'","value":2},"value":1.4}}},
{"data":{"name":"A"},"mark":{"type":"text","fontSize":12,"baseline":"middle","align":"center"},"encoding":{"text":{"field":"s"},"color":{"field":"s","type":"nominal","legend":null}}},
{"data":{"name":"tagA"},"mark":{"type":"text","fontSize":14,"fontWeight":"bold","align":"left","baseline":"middle","color":"black"},"encoding":{"text":{"field":"t"}}},
{"data":{"name":"headingA"},"mark":{"type":"text","fontSize":17.3,"align":"center","baseline":"middle","color":"black"},"encoding":{"text":{"field":"t"}}}
]},
{"width":467,"height":426,"view":{"stroke":"black","strokeWidth":1.5},
"encoding":{"x":{"field":"x","type":"quantitative","scale":{"domain":[-0.2,32.2],"nice":false,"zero":false},"axis":{"values":[0,5,10,15,20,25,30],"title":"Sequence Position","titleFontSize":11,"labelFontSize":11,"labelPadding":4,"titlePadding":13}},"y":{"field":"y","type":"quantitative","scale":{"domain":[-0.00075,0.0205],"nice":false,"zero":false},"axis":{"values":[0,0.005,0.01,0.015,0.02],"format":".3f","title":"Weighted Variant Allele Frequency","titleFontSize":14.2,"labelFontSize":12,"labelAngle":-90,"labelAlign":"center","labelBaseline":"bottom","labelPadding":2,"titlePadding":20}}},
"layer":[
{"data":{"name":"boxB"},"transform":[{"filter":"datum.k=='v'"}],"mark":{"type":"rect","color":"#D5E3F5"},"encoding":{"x2":{"field":"x2"},"y2":{"field":"y2"}}},
{"data":{"name":"boxB"},"transform":[{"filter":"datum.k=='e'"}],"mark":{"type":"rect","color":"#FAC8BE"},"encoding":{"x2":{"field":"x2"},"y2":{"field":"y2"}}},
{"data":{"name":"noteB"},"mark":{"type":"text","align":"left","baseline":"middle","fontSize":7.7,"color":"#444444"},"encoding":{"text":{"field":"t"}}},
{"data":{"name":"B"},"mark":{"type":"line"},"encoding":{"color":{"field":"s","type":"nominal","legend":null,"scale":{"domain":["1","2","5","6","7","0","a","b","c","d","e","f","g","j","l","m","n","o"],"range":["#000000","#EE1111","#22EEEE","#EE22EE","#000000","#1111DD","#22EEEE","#EE22EE","#000000","#EE1111","#22CC22","#1111DD","#22EEEE","#EE1111","#1111DD","#22EEEE","#EE22EE","#000000"]}},"strokeDash":{"field":"s","type":"nominal","legend":null,"scale":{"domain":["1","2","5","6","7","0","a","b","c","d","e","f","g","j","l","m","n","o"],"range":[[1,0],[5,4],[9,3],[1,0],[5,4],[9,3],[1,0],[5,4],[1.5,3],[1.5,3,5,3],[9,3],[1,0],[5,4],[9,3],[5,4],[1.5,3],[1.5,3,5,3],[9,4]]}},"strokeWidth":{"condition":{"test":"datum.s=='o'","value":2.6},"value":1.4}}},
{"data":{"name":"B"},"mark":{"type":"text","fontSize":12,"baseline":"middle","align":"center"},"encoding":{"text":{"field":"s"},"color":{"field":"s","type":"nominal","legend":null}}},
{"data":{"name":"tagB"},"mark":{"type":"text","fontSize":14,"fontWeight":"bold","align":"left","baseline":"middle","color":"black"},"encoding":{"text":{"field":"t"}}},
{"data":{"name":"headingB"},"mark":{"type":"text","fontSize":17.3,"align":"center","baseline":"middle","color":"black"},"encoding":{"text":{"field":"t"}}}
]},
{"width":467,"height":93,"encoding":{"x":{"field":"x","type":"quantitative","axis":null,"scale":{"domain":[0,467],"nice":false,"zero":false}},"y":{"field":"y","type":"quantitative","axis":null,"scale":{"domain":[93,0],"nice":false,"zero":false}}},
"layer":[
{"data":{"name":"tab"},"transform":[{"filter":"datum.k!='cell'"}],"mark":{"type":"rect"},"encoding":{"x2":{"field":"x2"},"y2":{"field":"y2"},"color":{"field":"k","type":"nominal","legend":null,"scale":{"domain":["dark","light","blue","pink"],"range":["#8C8C8C","#DEDEDE","#D5E3F5","#FAC8BE"]}}}},
{"data":{"name":"tab"},"transform":[{"filter":"datum.k=='cell'"}],"mark":{"type":"rect","fill":"white","stroke":"black","strokeWidth":1.5},"encoding":{"x2":{"field":"x2"},"y2":{"field":"y2"}}},
{"data":{"name":"brA"},"mark":{"type":"rule","color":"black","strokeWidth":1.6},"encoding":{"x2":{"field":"x2"},"y2":{"field":"y2"}}},
{"data":{"name":"headA"},"mark":{"type":"point","shape":"triangle-left","filled":true,"color":"black","size":30,"opacity":1}},
{"data":{"name":"tabText"},"transform":[{"filter":"datum.k=='w'"}],"mark":{"type":"text","align":"center","baseline":"middle","fontSize":12,"color":"white"},"encoding":{"text":{"field":"t"}}},
{"data":{"name":"tabText"},"transform":[{"filter":"datum.k=='l'"}],"mark":{"type":"text","align":"left","baseline":"middle","fontSize":12,"color":"#111111"},"encoding":{"text":{"field":"t"}}},
{"data":{"name":"tabText"},"transform":[{"filter":"datum.k=='s'"}],"mark":{"type":"text","align":"left","baseline":"middle","fontSize":10,"color":"#222222"},"encoding":{"text":{"field":"t"}}},
{"data":{"name":"tabText"},"transform":[{"filter":"datum.k=='c'"}],"mark":{"type":"text","align":"center","baseline":"middle","fontSize":10,"color":"#222222"},"encoding":{"text":{"field":"t"}}},
{"data":{"name":"textA"},"transform":[{"filter":"datum.k=='l'"}],"mark":{"type":"text","align":"left","baseline":"middle","fontSize":12,"color":"#111111"},"encoding":{"text":{"field":"t"}}},
{"data":{"name":"textA"},"transform":[{"filter":"datum.k=='h'"}],"mark":{"type":"text","align":"left","baseline":"middle","fontSize":11.3,"color":"#111111"},"encoding":{"text":{"field":"t"}}},
{"data":{"name":"textA"},"transform":[{"filter":"datum.k=='s'"}],"mark":{"type":"text","align":"left","baseline":"middle","fontSize":10,"color":"#222222"},"encoding":{"text":{"field":"t"}}},
{"data":{"name":"textA"},"transform":[{"filter":"datum.k=='c'"}],"mark":{"type":"text","align":"center","baseline":"middle","fontSize":10,"color":"#222222"},"encoding":{"text":{"field":"t"}}}
]},
{"width":467,"height":93,"encoding":{"x":{"field":"x","type":"quantitative","axis":null,"scale":{"domain":[0,467],"nice":false,"zero":false}},"y":{"field":"y","type":"quantitative","axis":null,"scale":{"domain":[93,0],"nice":false,"zero":false}}},
"layer":[
{"data":{"name":"tab"},"transform":[{"filter":"datum.k!='cell'"}],"mark":{"type":"rect"},"encoding":{"x2":{"field":"x2"},"y2":{"field":"y2"},"color":{"field":"k","type":"nominal","legend":null,"scale":{"domain":["dark","light","blue","pink"],"range":["#8C8C8C","#DEDEDE","#D5E3F5","#FAC8BE"]}}}},
{"data":{"name":"tab"},"transform":[{"filter":"datum.k=='cell'"}],"mark":{"type":"rect","fill":"white","stroke":"black","strokeWidth":1.5},"encoding":{"x2":{"field":"x2"},"y2":{"field":"y2"}}},
{"data":{"name":"brB"},"mark":{"type":"rule","color":"black","strokeWidth":1.6},"encoding":{"x2":{"field":"x2"},"y2":{"field":"y2"}}},
{"data":{"name":"headB"},"mark":{"type":"point","shape":"triangle-left","filled":true,"color":"black","size":30,"opacity":1}},
{"data":{"name":"tabText"},"transform":[{"filter":"datum.k=='w'"}],"mark":{"type":"text","align":"center","baseline":"middle","fontSize":12,"color":"white"},"encoding":{"text":{"field":"t"}}},
{"data":{"name":"tabText"},"transform":[{"filter":"datum.k=='l'"}],"mark":{"type":"text","align":"left","baseline":"middle","fontSize":12,"color":"#111111"},"encoding":{"text":{"field":"t"}}},
{"data":{"name":"tabText"},"transform":[{"filter":"datum.k=='s'"}],"mark":{"type":"text","align":"left","baseline":"middle","fontSize":10,"color":"#222222"},"encoding":{"text":{"field":"t"}}},
{"data":{"name":"tabText"},"transform":[{"filter":"datum.k=='c'"}],"mark":{"type":"text","align":"center","baseline":"middle","fontSize":10,"color":"#222222"},"encoding":{"text":{"field":"t"}}},
{"data":{"name":"textB"},"transform":[{"filter":"datum.k=='l'"}],"mark":{"type":"text","align":"left","baseline":"middle","fontSize":12,"color":"#111111"},"encoding":{"text":{"field":"t"}}},
{"data":{"name":"textB"},"transform":[{"filter":"datum.k=='h'"}],"mark":{"type":"text","align":"left","baseline":"middle","fontSize":11.3,"color":"#111111"},"encoding":{"text":{"field":"t"}}},
{"data":{"name":"textB"},"transform":[{"filter":"datum.k=='s'"}],"mark":{"type":"text","align":"left","baseline":"middle","fontSize":10,"color":"#222222"},"encoding":{"text":{"field":"t"}}},
{"data":{"name":"textB"},"transform":[{"filter":"datum.k=='c'"}],"mark":{"type":"text","align":"center","baseline":"middle","fontSize":10,"color":"#222222"},"encoding":{"text":{"field":"t"}}}
]}
]}
